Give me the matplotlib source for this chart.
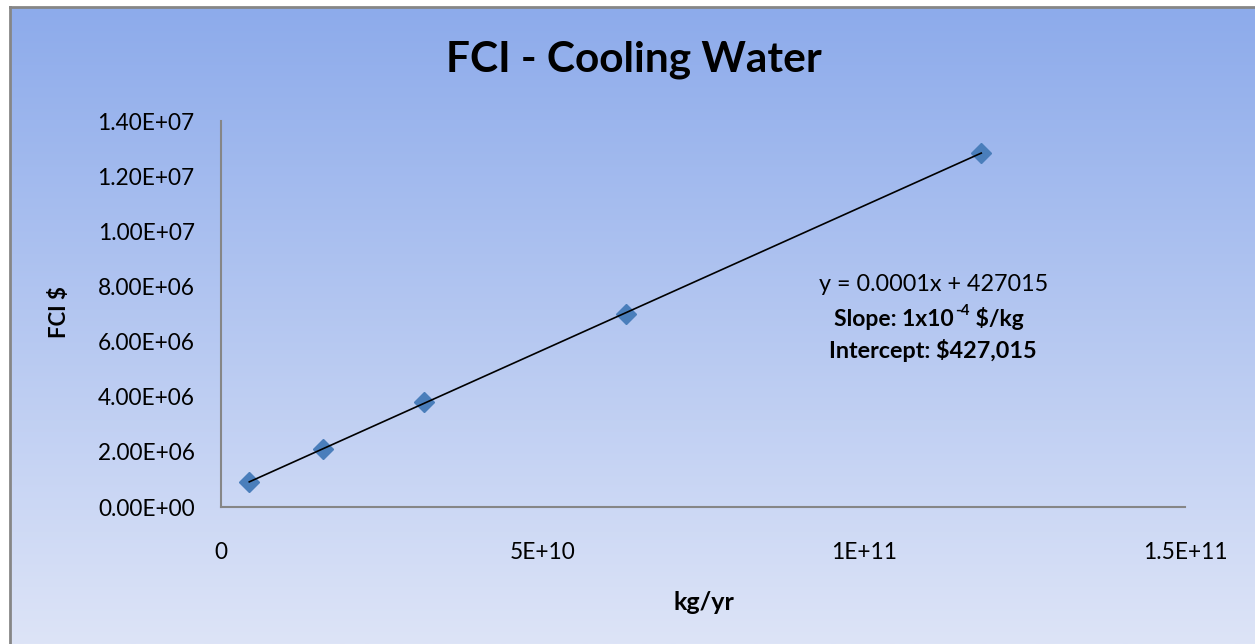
import numpy as np
import matplotlib.pyplot as plt
from matplotlib.colors import LinearSegmentedColormap

plt.rcParams['font.family'] = ['Lato', 'DejaVu Sans']

# Data
flow_kg_yr = [4.4e9, 1.58e10, 3.16e10, 6.3e10, 1.183e11]
fci_dollars = [0.91e6, 2.09e6, 3.81e6, 7.0e6, 12.85e6]
x_ticks = [0, 5e10, 1e11, 1.5e11]
x_tick_labels = ['0', '5E+10', '1E+11', '1.5E+11']
y_ticks = [0, 2e6, 4e6, 6e6, 8e6, 1e7, 1.2e7, 1.4e7]
y_tick_labels = ['0.00E+00', '2.00E+06', '4.00E+06', '6.00E+06',
                 '8.00E+06', '1.00E+07', '1.20E+07', '1.40E+07']

W, H = 1255, 644
fig = plt.figure(figsize=(W / 100, H / 100), dpi=100, facecolor='white')

# Gradient chart-area background
bg = fig.add_axes([10 / W, 0, 1 - 10 / W, 1 - 8 / H])
bg.set_axis_off()
cmap = LinearSegmentedColormap.from_list('bg', ['#8dabeb', '#dde4f7'])
grad = np.linspace(0, 1, 256).reshape(-1, 1)
bg.imshow(grad, aspect='auto', cmap=cmap, extent=[0, 1, 0, 1], origin='upper')
bg.set_xlim(0, 1)
bg.set_ylim(0, 1)

# Border (left and top visible)
fig.add_artist(plt.Line2D([9.5 / W, 9.5 / W], [0, 1 - 7 / H], color='#868686', lw=2,
                          transform=fig.transFigure))
fig.add_artist(plt.Line2D([9.5 / W, 1], [1 - 7 / H, 1 - 7 / H], color='#868686', lw=2,
                          transform=fig.transFigure))

ax = fig.add_axes([221 / W, 137 / H, (1185 - 221) / W, (507 - 121) / H])
ax.patch.set_alpha(0)

# Trendline
slope, intercept = np.polyfit(flow_kg_yr, fci_dollars, 1)
xs = np.array([flow_kg_yr[0], flow_kg_yr[-1]])
ax.plot(xs, slope * xs + intercept, color='black', lw=1.2, zorder=3)

ax.plot(flow_kg_yr, fci_dollars, linestyle='none', marker='D', ms=10,
        color='#4a7ebb', zorder=2)

ax.set_xlim(0, 1.5e11)
ax.set_ylim(0, 1.4e7)
ax.set_xticks(x_ticks)
ax.set_xticklabels(x_tick_labels)
ax.set_yticks(y_ticks)
ax.set_yticklabels(y_tick_labels)
ax.tick_params(axis='x', length=0, pad=25, labelsize=16.3)
ax.tick_params(axis='y', length=0, pad=19, labelsize=16.3)
for side in ['top', 'right']:
    ax.spines[side].set_visible(False)
for side in ['left', 'bottom']:
    ax.spines[side].set_color('#868686')
    ax.spines[side].set_linewidth(1.5)

fig.text(634 / W, 1 - 60 / H, 'FCI - Cooling Water', ha='center', va='center',
         fontsize=30.5, fontweight='bold')
fig.text(60 / W, 1 - 312 / H, 'FCI $', ha='center', va='center', rotation=90,
         fontsize=16, fontweight='bold')
fig.text(704 / W, 1 - 603 / H, 'kg/yr', ha='center', va='center',
         fontsize=18, fontweight='bold')

# Trendline annotation
fig.text(934 / W, 1 - 284 / H, 'y = 0.0001x + 427015', ha='center', va='center',
         fontsize=16.8)
s1 = fig.text(834 / W, 1 - 319 / H, 'Slope: 1x10', ha='left', va='center',
              fontsize=16.5, fontweight='bold')
sup = ax.annotate('-4', xy=(1.0, 0.55), xycoords=s1, xytext=(1, 0),
                  textcoords='offset points', ha='left', va='bottom',
                  fontsize=11, fontweight='bold', annotation_clip=False)
ax.annotate(' $/kg', xy=(1.0, 0.0), xycoords=(sup, s1), xytext=(0, 0),
            textcoords='offset points', ha='left', va='bottom',
            fontsize=16.5, fontweight='bold', annotation_clip=False)
fig.text(933 / W, 1 - 350 / H, 'Intercept: $427,015', ha='center', va='center',
         fontsize=16.8, fontweight='bold')

fig.savefig('out.png', dpi=100, facecolor='white')
